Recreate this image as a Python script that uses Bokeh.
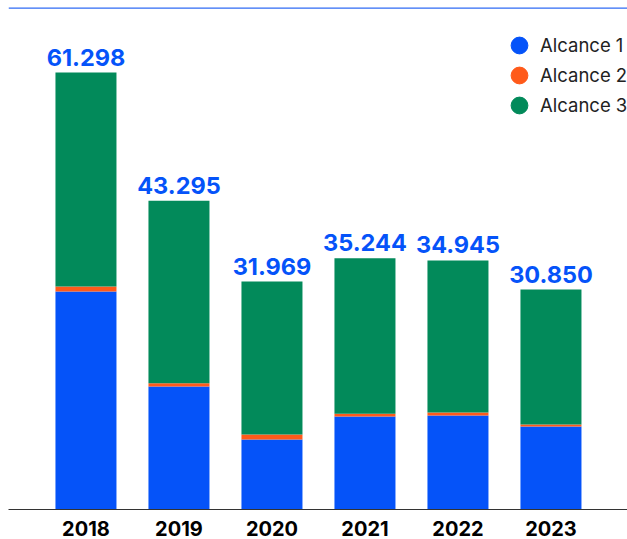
from bokeh.plotting import figure
from bokeh.models import Range1d, FixedTicker, Span, Legend, LegendItem, ColumnDataSource
from bokeh.core.properties import value
from bokeh.embed import file_html
from bokeh.resources import INLINE

years = ["2018", "2019", "2020", "2021", "2022", "2023"]
alcance1 = [30580, 17250, 9820, 13050, 13190, 11640]
alcance2 = [700, 460, 700, 380, 420, 280]
alcance3 = [30018, 25585, 21449, 21814, 21335, 18930]
totals = [61298, 43295, 31969, 35244, 34945, 30850]
series_names = ["Alcance 1", "Alcance 2", "Alcance 3"]
colors = ["#0553F9", "#FF5A1A", "#028A5A"]
label_blue = "#0553F9"

Y_END = 70420
FRAME_H = 502

pos = list(range(len(years)))
src = ColumnDataSource(dict(
    x=pos,
    a1=alcance1, a2=alcance2, a3=alcance3,
    total=totals,
    label=[f"{v:,}".replace(",", ".") for v in totals],
))

p = figure(frame_width=619, frame_height=FRAME_H,
           x_range=Range1d(-0.833, 5.823), y_range=Range1d(0, Y_END),
           output_backend="svg", toolbar_location=None,
           min_border_left=8, min_border_right=0, min_border_top=7, min_border_bottom=30)
p.outline_line_color = None
p.grid.grid_line_color = None
p.yaxis.visible = False
p.background_fill_color = "white"
p.border_fill_color = "white"

p.vbar_stack(["a1", "a2", "a3"], x="x", width=0.656, color=colors, line_color=None, source=src)

p.text(x="x", y="total", text="label", source=src, text_align="center", text_baseline="bottom",
       y_offset=-7, text_font=value("Inter"), text_font_style="bold", text_font_size="23.5px",
       text_color=label_blue)

xa = p.xaxis[0]
xa.ticker = FixedTicker(ticks=pos)
xa.major_label_overrides = {i: y for i, y in zip(pos, years)}
xa.major_tick_line_color = None
xa.minor_tick_line_color = None
xa.axis_line_color = "#333333"
xa.axis_line_width = 1
xa.major_label_standoff = 5
xa.major_label_text_font = "Inter"
xa.major_label_text_font_style = "bold"
xa.major_label_text_font_size = "20px"
xa.major_label_text_color = "#000000"

p.add_layout(Span(location=Y_END, dimension="width", line_color="#2F6BF5", line_width=2.5))

# one legend per entry so entries can sit 30px apart with large circle glyphs
glyph_box = 42
for i, (name, c) in enumerate(zip(series_names, colors)):
    r = p.scatter(x=[float("nan")], y=[float("nan")], marker="circle", color=c)
    center_from_top = 38 + 30 * i
    leg = Legend(items=[LegendItem(label=name, renderers=[r])],
                 location=(490, FRAME_H - center_from_top - glyph_box // 2),
                 padding=0, spacing=0, margin=0,
                 glyph_width=glyph_box, glyph_height=glyph_box, label_standoff=0,
                 label_text_font="Inter", label_text_font_size="18.5px",
                 label_text_color="#222222",
                 border_line_color=None, background_fill_alpha=0)
    p.add_layout(leg)

open("out.html", "w").write(file_html(p, INLINE))
